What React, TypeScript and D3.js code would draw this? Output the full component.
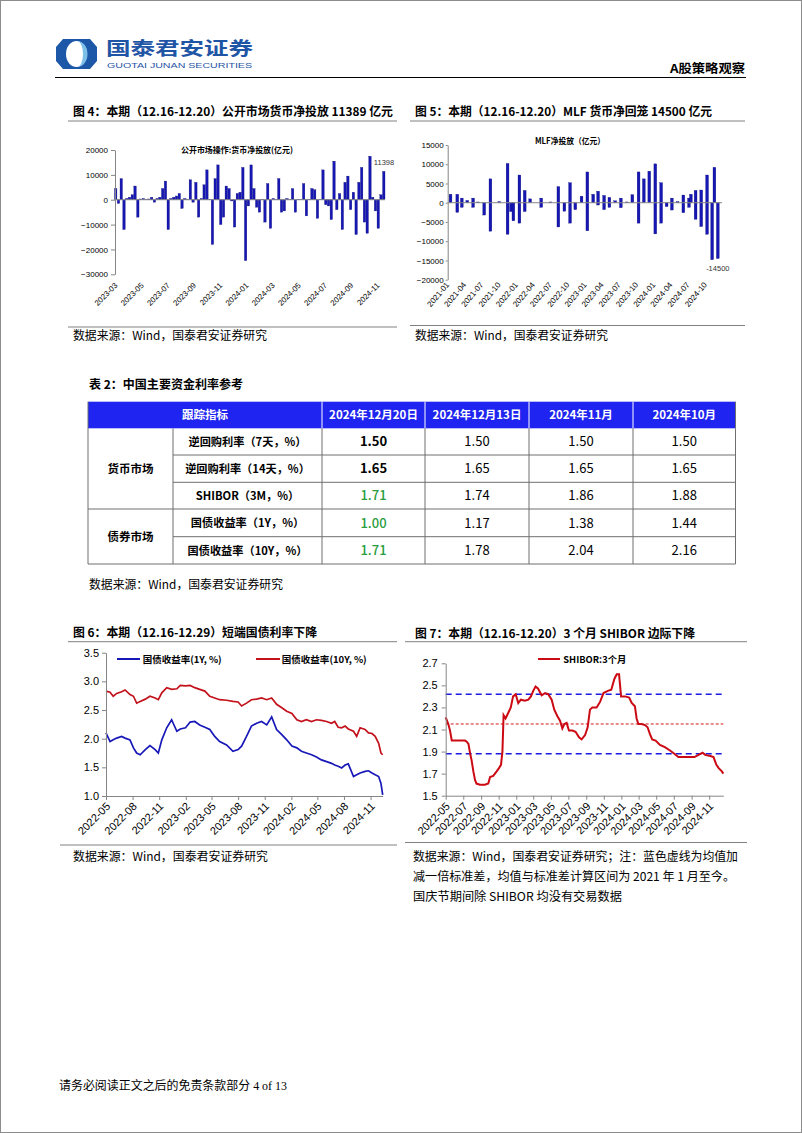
import { useEffect, useRef } from "react";
import * as d3 from "d3";

// ── 图4 公开市场操作:货币净投放(亿元)，周度 ─────────────────────────────────
const omoValues = [
  4500, -1500, 8500, -12000, 500, 1000, 2000, 5500, -7000, 300,
  500, 200, 300, 1000, -1000, 500, 1000, 4500, 7500, -12000,
  500, 1000, 1500, 2500, -3500, 500, 200, 8000, -1000, 7000,
  -7000, 500, 6000, 12000, 200, -18000, 8500, 14000, -10000, -7000,
  5500, 4500, -500, -11000, 2500, 3000, 13000, -24500, -2500, 14000,
  4500, -3000, -5000, 200, -9000, 6500, -11500, 500, 200, 8500,
  -5000, -4500, 500, 200, 4500, -5000, 200, 200, 6500, -6500,
  200, 4500, 4000, -7500, 200, 12000, -2000, -2500, -8000, 15500,
  -4000, 2500, -12000, 7000, 9500, -4000, 3000, -14000, 7000, 13000,
  -9000, -13500, 17500, 1000, -4500, -11500, 2000, 11398,
];
const omoTicks = [
  "2023-03", "2023-05", "2023-07", "2023-09", "2023-11", "2024-01",
  "2024-03", "2024-05", "2024-07", "2024-09", "2024-11",
];
const omoYTicks = [-30000, -20000, -10000, 0, 10000, 20000];

// ── 图5 MLF净投放(亿元) ─────────────────────────────────────────────────────
const mlfDates = [
  "2021-01-16", "2021-02-21", "2021-02-21", "2021-03-17", "2021-03-17", "2021-04-15",
  "2021-05-16", "2021-05-16", "2021-06-12", "2021-07-14", "2021-08-16", "2021-08-16",
  "2021-10-02", "2021-11-15", "2021-11-15", "2021-12-03", "2021-12-16", "2022-01-17",
  "2022-01-17", "2022-02-14", "2022-02-14", "2022-03-15", "2022-05-13", "2022-05-13",
  "2022-07-01", "2022-08-12", "2022-08-12", "2022-09-13", "2022-10-13", "2022-10-13",
  "2022-11-10", "2022-12-13", "2023-01-13", "2023-01-13", "2023-02-13", "2023-03-11",
  "2023-03-11", "2023-04-12", "2023-04-12", "2023-05-10", "2023-05-10", "2023-06-10",
  "2023-07-10", "2023-07-10", "2023-08-12", "2023-09-09", "2023-10-12", "2023-10-12",
  "2023-11-09", "2023-12-08", "2024-01-09", "2024-01-09", "2024-02-09", "2024-02-09",
  "2024-03-09", "2024-04-06", "2024-04-06", "2024-05-06", "2024-06-06", "2024-06-06",
  "2024-07-06", "2024-07-06", "2024-07-16", "2024-08-10", "2024-08-10", "2024-09-09",
  "2024-09-09", "2024-10-10", "2024-10-10", "2024-11-06", "2024-11-18", "2024-12-06",
];
const mlfValues = [
  2200, 2200, -2500, 1200, -1200, 600,
  1200, -1200, 200, -3200, 6200, -7400,
  300, 10200, -8200, -2300, -4700, 7200,
  -5300, 3200, -2300, 1000, 1200, -1200,
  200, 4200, -6300, -2200, 5200, -5300,
  -1800, 1700, 8000, -7300, 2200, 3000,
  -600, 1900, -1800, 1400, -1200, 500,
  1200, -1300, 200, 2100, 8000, -5300,
  6200, 8200, 10100, -8100, 5200, -5300,
  -1000, 1200, -1900, 300, 2000, -2600,
  1200, -1200, 2200, 3200, -4300, 3300,
  -6200, 7200, -8200, -14800, 9200, -14500,
];
const mlfTicks = [
  "2021-01", "2021-04", "2021-07", "2021-10", "2022-01", "2022-04", "2022-07", "2022-10",
  "2023-01", "2023-04", "2023-07", "2023-10", "2024-01", "2024-04", "2024-07", "2024-10",
];
const mlfYTicks = [-20000, -15000, -10000, -5000, 0, 5000, 10000, 15000];

// ── 表2 中国主要资金利率参考 ────────────────────────────────────────────────
const tableHeader = ["跟踪指标", "2024年12月20日", "2024年12月13日", "2024年11月", "2024年10月"];
const tableGroups = ["货币市场", "债券市场"];
const tableGroupRows = [3, 2];
const tableRowNames = [
  "逆回购利率（7天，%）",
  "逆回购利率（14天，%）",
  "SHIBOR（3M，%）",
  "国债收益率（1Y，%）",
  "国债收益率（10Y，%）",
];
const tableValues = [
  ["1.50", "1.50", "1.50", "1.50"],
  ["1.65", "1.65", "1.65", "1.65"],
  ["1.71", "1.74", "1.86", "1.88"],
  ["1.00", "1.17", "1.38", "1.44"],
  ["1.71", "1.78", "2.04", "2.16"],
];

// ── 图6 国债收益率 ─────────────────────────────────────────────────────────
const bondDates = [
  "2022-05-01", "2022-05-15", "2022-05-26", "2022-06-07", "2022-06-24", "2022-07-06", "2022-07-23", "2022-08-04",
  "2022-08-15", "2022-08-27", "2022-09-14", "2022-09-30", "2022-10-18", "2022-10-29", "2022-11-10", "2022-11-27",
  "2022-12-14", "2023-01-01", "2023-01-13", "2023-01-31", "2023-02-16", "2023-03-04", "2023-03-21", "2023-04-08",
  "2023-04-25", "2023-05-12", "2023-05-29", "2023-06-22", "2023-07-14", "2023-08-01", "2023-08-13", "2023-08-30",
  "2023-09-16", "2023-10-04", "2023-10-21", "2023-11-08", "2023-11-25", "2023-12-12", "2023-12-30", "2024-01-16",
  "2024-02-03", "2024-02-20", "2024-03-07", "2024-03-24", "2024-04-11", "2024-04-28", "2024-05-15", "2024-06-02",
  "2024-06-19", "2024-06-30", "2024-07-12", "2024-07-24", "2024-08-05", "2024-08-16", "2024-09-03", "2024-09-14",
  "2024-09-26", "2024-10-13", "2024-10-25", "2024-11-06", "2024-11-17", "2024-11-29", "2024-12-07", "2024-12-13",
];
const bond1Y = [
  2.10, 1.95, 1.98, 2.01, 2.04, 2.01, 1.98, 1.84, 1.75, 1.72,
  1.81, 1.88, 1.81, 1.75, 1.98, 2.19, 2.33, 2.13, 2.17, 2.19,
  2.29, 2.30, 2.24, 2.20, 2.16, 2.04, 1.95, 1.89, 1.78, 1.81,
  1.87, 2.04, 2.22, 2.27, 2.30, 2.24, 2.38, 2.16, 2.07, 1.98,
  1.87, 1.84, 1.78, 1.75, 1.72, 1.68, 1.63, 1.60, 1.57, 1.54,
  1.52, 1.49, 1.54, 1.56, 1.34, 1.37, 1.40, 1.43, 1.44, 1.40,
  1.37, 1.34, 1.22, 1.02,
];
const bond10Y = [
  2.83, 2.81, 2.74, 2.79, 2.82, 2.85, 2.77, 2.74, 2.62, 2.65,
  2.69, 2.74, 2.71, 2.68, 2.80, 2.89, 2.86, 2.87, 2.93, 2.92,
  2.93, 2.89, 2.86, 2.83, 2.74, 2.71, 2.68, 2.67, 2.65, 2.64,
  2.57, 2.62, 2.68, 2.69, 2.71, 2.68, 2.71, 2.60, 2.54, 2.48,
  2.44, 2.33, 2.30, 2.33, 2.30, 2.33, 2.32, 2.30, 2.27, 2.30,
  2.20, 2.19, 2.22, 2.17, 2.13, 2.04, 2.19, 2.16, 2.10, 2.09,
  2.04, 1.92, 1.75, 1.72,
];
const bondTicks = [
  "2022-05", "2022-08", "2022-11", "2023-02", "2023-05", "2023-08",
  "2023-11", "2024-02", "2024-05", "2024-08", "2024-11",
];
const bondYTicks = [1.0, 1.5, 2.0, 2.5, 3.0, 3.5];

// ── 图7 SHIBOR:3个月 ─────────────────────────────────────────────────────
const shiborDates = [
  "2022-05-01", "2022-05-10", "2022-05-16", "2022-05-22", "2022-06-02", "2022-06-20", "2022-07-07", "2022-07-13",
  "2022-07-19", "2022-07-25", "2022-07-30", "2022-08-05", "2022-08-11", "2022-08-16", "2022-08-28", "2022-09-14",
  "2022-09-26", "2022-10-02", "2022-10-13", "2022-10-25", "2022-11-02", "2022-11-09", "2022-11-14", "2022-11-18",
  "2022-11-25", "2022-12-04", "2022-12-13", "2022-12-21", "2022-12-30", "2023-01-08", "2023-01-17", "2023-01-31",
  "2023-02-12", "2023-02-21", "2023-03-01", "2023-03-09", "2023-03-18", "2023-03-30", "2023-04-11", "2023-04-22",
  "2023-05-04", "2023-05-13", "2023-05-24", "2023-06-02", "2023-06-10", "2023-06-17", "2023-06-25", "2023-07-03",
  "2023-07-15", "2023-07-26", "2023-08-07", "2023-08-16", "2023-08-28", "2023-09-06", "2023-09-14", "2023-09-22",
  "2023-10-07", "2023-10-19", "2023-10-31", "2023-11-15", "2023-11-27", "2023-12-08", "2023-12-16", "2023-12-24",
  "2023-12-31", "2024-01-14", "2024-01-28", "2024-02-06", "2024-02-17", "2024-02-23", "2024-02-29", "2024-03-11",
  "2024-03-23", "2024-04-01", "2024-04-09", "2024-04-17", "2024-04-29", "2024-05-14", "2024-05-31", "2024-06-18",
  "2024-07-03", "2024-07-17", "2024-07-31", "2024-08-19", "2024-08-30", "2024-09-11", "2024-09-25", "2024-10-09",
  "2024-10-18", "2024-11-05", "2024-11-16", "2024-11-26", "2024-12-04", "2024-12-15", "2024-12-20",
];
const shiborValues = [
  2.21, 2.15, 2.09, 2.00, 2.00, 2.00, 2.00, 1.99, 1.97, 1.88,
  1.82, 1.72, 1.64, 1.61, 1.60, 1.60, 1.61, 1.67, 1.68, 1.72,
  1.75, 1.78, 1.90, 2.23, 2.20, 2.25, 2.30, 2.40, 2.42, 2.34,
  2.37, 2.36, 2.37, 2.40, 2.45, 2.49, 2.47, 2.41, 2.43, 2.42,
  2.37, 2.28, 2.22, 2.18, 2.11, 2.15, 2.16, 2.09, 2.09, 2.08,
  2.03, 2.01, 2.05, 2.12, 2.28, 2.30, 2.30, 2.35, 2.43, 2.45,
  2.46, 2.56, 2.60, 2.60, 2.40, 2.40, 2.39, 2.34, 2.31, 2.20,
  2.15, 2.15, 2.14, 2.12, 2.06, 2.01, 2.00, 1.96, 1.94, 1.91,
  1.88, 1.85, 1.85, 1.85, 1.85, 1.85, 1.87, 1.89, 1.87, 1.86,
  1.85, 1.78, 1.75, 1.72, 1.70,
];
const shiborBandLevels = [2.42, 1.88];
const shiborMeanLevel = [2.15];
const shiborTicks = [
  "2022-05", "2022-07", "2022-09", "2022-11", "2023-01", "2023-03", "2023-05", "2023-07",
  "2023-09", "2023-11", "2024-01", "2024-03", "2024-05", "2024-07", "2024-09", "2024-11",
];
const shiborYTicks = [1.5, 1.7, 1.9, 2.1, 2.3, 2.5, 2.7];

const CJK = "'Noto Sans CJK SC', 'Noto Sans', sans-serif";
const SANS = "'Liberation Sans', Arial, sans-serif";
const SERIF = "'Liberation Serif', 'Noto Sans CJK SC', serif";

export default function App() {
  const svgRef = useRef<SVGSVGElement>(null);

  useEffect(() => {
    if (!svgRef.current) return;
    const svg = d3.select(svgRef.current);
    svg.selectAll("*").remove();

    const parseDay = d3.timeParse("%Y-%m-%d");
    const parseMonth = d3.timeParse("%Y-%m");

    type TOpt = { size: number; weight?: string | number; fill?: string; anchor?: string; family?: string; len?: number };
    const label = (
      parent: d3.Selection<any, unknown, null, undefined>,
      x: number,
      y: number,
      s: string,
      o: TOpt
    ) => {
      const t = parent
        .append("text")
        .attr("x", x)
        .attr("y", y)
        .attr("font-size", o.size)
        .attr("font-family", o.family ?? CJK)
        .attr("font-weight", o.weight ?? "normal")
        .attr("fill", o.fill ?? "#000")
        .attr("text-anchor", o.anchor ?? "start")
        .text(s);
      if (o.len) t.attr("textLength", o.len).attr("lengthAdjust", "spacingAndGlyphs");
      return t;
    };
    const hline = (x1: number, x2: number, y: number, stroke = "#000", w = 1) =>
      svg.append("line").attr("x1", x1).attr("x2", x2).attr("y1", y).attr("y2", y).attr("stroke", stroke).attr("stroke-width", w);

    const styleAxis = (ax: d3.Selection<SVGGElement, unknown, null, undefined>, size: number) => {
      ax.attr("font-family", SANS).attr("font-size", size);
      ax.select(".domain").attr("stroke", "#868686");
      ax.selectAll(".tick line").attr("stroke", "#868686");
      ax.selectAll(".tick text").attr("fill", "#000");
    };

    // page
    svg.append("rect").attr("x", 0.5).attr("y", 0.5).attr("width", 801).attr("height", 1132)
      .attr("fill", "#fff").attr("stroke", "#8c8c8c");

    // ── header ─────────────────────────────────────────────────────────────
    const logo = svg.append("g");
    logo.append("path")
      .attr("d", "M63,39 L90,39 L97,47 L97,61 L90,69 L63,69 L56,61 L56,47 Z")
      .attr("fill", "#1d57a8");
    logo.append("ellipse").attr("cx", 76.5).attr("cy", 54).attr("rx", 10.5).attr("ry", 13).attr("fill", "#fff");
    logo.append("path")
      .attr("d", "M77,41 A10.5,13 0 0 1 77,67 A6,13 0 0 0 77,41 Z")
      .attr("fill", "#7cc0ea");
    label(svg, 106, 55, "国泰君安证券", { size: 18, weight: "bold", fill: "#1f55a5", len: 147 });
    label(svg, 107, 67.5, "GUOTAI JUNAN SECURITIES", { size: 7, fill: "#1f55a5", family: SANS, len: 145 });
    label(svg, 670, 73, "A股策略观察", { size: 12, weight: "bold", len: 75 });
    hline(55, 746, 77.5, "#000", 1.2);

    // ── 图4 ────────────────────────────────────────────────────────────────
    label(svg, 73, 116, "图 4：本期（12.16-12.20）公开市场货币净投放 11389 亿元", { size: 12, weight: "bold", len: 320 });
    hline(68, 397, 121, "#808080", 1);

    const y4 = d3.scaleLinear().domain([-30000, 20000]).range([274.3, 150]);
    const x4 = d3.scaleBand<number>().domain(d3.range(omoValues.length)).range([114.5, 385]).paddingInner(0.12);
    const g4 = svg.append("g");
    g4.selectAll("rect")
      .data(omoValues)
      .join("rect")
      .attr("x", (_, i) => x4(i) as number)
      .attr("width", x4.bandwidth())
      .attr("y", (d) => y4(Math.max(0, d)))
      .attr("height", (d) => Math.abs(y4(d) - y4(0)))
      .attr("fill", "#1717b4")
      .attr("stroke", "#0b0b78")
      .attr("stroke-width", 0.3);
    g4.append("line").attr("x1", 115).attr("x2", 385).attr("y1", y4(0)).attr("y2", y4(0)).attr("stroke", "#868686");
    const ax4 = g4.append("g").attr("transform", "translate(115,0)")
      .call(d3.axisLeft(y4).tickValues(omoYTicks).tickSize(4).tickSizeOuter(0).tickFormat(d3.format("d")));
    styleAxis(ax4, 8);
    const px4 = d3.scalePoint<string>().domain(omoTicks).range([116, 378]);
    omoTicks.forEach((t) => {
      label(g4, 0, 0, t, { size: 7.8, family: SANS, anchor: "end" })
        .attr("transform", `translate(${(px4(t) as number) + 2},${286}) rotate(-45)`);
    });
    label(g4, 237, 153, "公开市场操作:货币净投放(亿元)", { size: 8.2, weight: "bold", anchor: "middle", len: 112 });
    label(g4, 384, 164.5, String(omoValues[omoValues.length - 1]), { size: 7.5, family: SANS, anchor: "middle", fill: "#333" });

    hline(68, 397, 327, "#808080", 1);
    label(svg, 73, 340, "数据来源：Wind，国泰君安证券研究", { size: 12, len: 194 });

    // ── 图5 ────────────────────────────────────────────────────────────────
    label(svg, 415, 116, "图 5：本期（12.16-12.20）MLF 货币净回笼 14500 亿元", { size: 12, weight: "bold", len: 297 });
    hline(410, 745, 121, "#808080", 1);

    const y5 = d3.scaleLinear().domain([-20000, 15000]).range([279.7, 145]);
    const x5 = d3.scaleTime().domain([new Date(2021, 0, 1), new Date(2025, 0, 1)]).range([447.7, 722.7]);
    const g5 = svg.append("g");
    g5.selectAll("rect")
      .data(mlfValues)
      .join("rect")
      .attr("x", (_, i) => x5(parseDay(mlfDates[i]) as Date) - 1.4)
      .attr("width", 2.8)
      .attr("y", (d) => y5(Math.max(0, d)))
      .attr("height", (d) => Math.abs(y5(d) - y5(0)))
      .attr("fill", "#1717b4")
      .attr("stroke", "#0b0b78")
      .attr("stroke-width", 0.3);
    g5.append("line").attr("x1", 447.7).attr("x2", 722).attr("y1", y5(0)).attr("y2", y5(0)).attr("stroke", "#868686");
    const ax5 = g5.append("g").attr("transform", "translate(447.7,0)")
      .call(d3.axisLeft(y5).tickValues(mlfYTicks).tickSize(2).tickPadding(2).tickSizeOuter(0).tickFormat(d3.format("d")));
    styleAxis(ax5, 8);
    mlfTicks.forEach((t) => {
      label(g5, 0, 0, t, { size: 8, family: SANS, anchor: "end" })
        .attr("transform", `translate(${x5(parseMonth(t) as Date) + 2},${285}) rotate(-50)`);
    });
    label(g5, 570, 144, "MLF净投放（亿元）", { size: 8.2, weight: "bold", anchor: "middle", len: 70 });
    label(g5, x5(parseDay(mlfDates[mlfDates.length - 1]) as Date), 271, String(mlfValues[mlfValues.length - 1]),
      { size: 7.5, family: SANS, anchor: "middle", fill: "#333" });

    hline(410, 745, 325.5, "#808080", 1);
    label(svg, 415, 340, "数据来源：Wind，国泰君安证券研究", { size: 12, len: 193 });

    // ── 表2 ────────────────────────────────────────────────────────────────
    label(svg, 89, 388.5, "表 2：中国主要资金利率参考", { size: 12, weight: "bold", len: 154 });
    const colX = [88, 173, 322, 425, 529, 633, 735.5];
    const rowY = [401.7, 428.3, 455, 482.3, 509, 536.7, 564];
    const tg = svg.append("g");
    tg.append("rect").attr("x", colX[0]).attr("y", rowY[0]).attr("width", colX[6] - colX[0]).attr("height", rowY[1] - rowY[0])
      .attr("fill", "#1f24f0");
    [2, 3, 4, 5].forEach((c) => {
      tg.append("line").attr("x1", colX[c]).attr("x2", colX[c]).attr("y1", rowY[0]).attr("y2", rowY[1]).attr("stroke", "#fff").attr("stroke-width", 1);
    });
    const hy = (rowY[0] + rowY[1]) / 2 + 4.2;
    label(tg, (colX[0] + colX[2]) / 2, hy, tableHeader[0], { size: 11.5, weight: "bold", fill: "#fff", anchor: "middle" });
    tableHeader.slice(1).forEach((h, i) => {
      label(tg, (colX[i + 2] + colX[i + 3]) / 2, hy, h, { size: 11.5, weight: "bold", fill: "#fff", anchor: "middle" });
    });
    const grid = "#6f6f6f";
    for (let r = 2; r <= 6; r++) {
      const full = r === 4 || r === 6;
      tg.append("line").attr("x1", full ? colX[0] : colX[1]).attr("x2", colX[6]).attr("y1", rowY[r]).attr("y2", rowY[r])
        .attr("stroke", grid);
    }
    colX.forEach((cx) => {
      tg.append("line").attr("x1", cx).attr("x2", cx).attr("y1", rowY[1]).attr("y2", rowY[6]).attr("stroke", grid);
    });
    tg.append("line").attr("x1", colX[0]).attr("x2", colX[0]).attr("y1", rowY[0]).attr("y2", rowY[1]).attr("stroke", grid);
    tg.append("line").attr("x1", colX[6]).attr("x2", colX[6]).attr("y1", rowY[0]).attr("y2", rowY[1]).attr("stroke", grid);
    let start = 0;
    tableGroups.forEach((gname, gi) => {
      const n = tableGroupRows[gi];
      const cy = (rowY[1 + start] + rowY[1 + start + n]) / 2 + 4;
      label(tg, (colX[0] + colX[1]) / 2, cy, gname, { size: 11.5, weight: "bold", anchor: "middle" });
      start += n;
    });
    tableRowNames.forEach((name, r) => {
      const cy = (rowY[r + 1] + rowY[r + 2]) / 2 + 4.2;
      label(tg, (colX[1] + colX[2]) / 2, cy, name, { size: 11.2, weight: "bold", anchor: "middle" });
      tableValues[r].forEach((v, c) => {
        const first = c === 0;
        const green = first && r >= 2;
        label(tg, (colX[c + 2] + colX[c + 3]) / 2, cy + 0.5, v, {
          size: 13,
          weight: first && !green ? "bold" : first ? 500 : "normal",
          fill: green ? "#2a9d40" : "#000",
          anchor: "middle",
        });
      });
    });
    label(svg, 89, 588.5, "数据来源：Wind，国泰君安证券研究", { size: 12, len: 194 });

    // ── 图6 ────────────────────────────────────────────────────────────────
    label(svg, 73, 637, "图 6：本期（12.16-12.29）短端国债利率下降", { size: 12, weight: "bold", len: 244 });
    hline(68, 397, 641.7, "#808080", 1);
    const y6 = d3.scaleLinear().domain([1.0, 3.5]).range([796, 652.7]);
    const x6 = d3.scaleTime().domain([parseDay("2022-05-01") as Date, parseDay("2024-12-13") as Date]).range([106, 382.7]);
    const g6 = svg.append("g");
    const line6 = d3.line<number>().x((_, i) => x6(parseDay(bondDates[i]) as Date)).y((d) => y6(d));
    g6.append("path").datum(bond10Y).attr("d", line6).attr("fill", "none").attr("stroke", "#c3121c").attr("stroke-width", 1.7);
    g6.append("path").datum(bond1Y).attr("d", line6).attr("fill", "none").attr("stroke", "#1818b8").attr("stroke-width", 1.7);
    const ax6y = g6.append("g").attr("transform", "translate(106,0)")
      .call(d3.axisLeft(y6).tickValues(bondYTicks).tickSize(4).tickPadding(3).tickSizeOuter(0).tickFormat(d3.format(".1f")));
    styleAxis(ax6y, 11);
    const ax6x = g6.append("g").attr("transform", "translate(0,796)")
      .call(d3.axisBottom(x6).tickValues(bondTicks.map((t) => parseMonth(t) as Date)).tickSize(4).tickSizeOuter(0).tickFormat(() => ""));
    styleAxis(ax6x, 11);
    bondTicks.forEach((t) => {
      label(g6, 0, 0, t, { size: 11, family: SANS, anchor: "end" })
        .attr("transform", `translate(${x6(parseMonth(t) as Date) + 5},${807}) rotate(-45)`);
    });
    g6.append("line").attr("x1", 117).attr("x2", 140).attr("y1", 659).attr("y2", 659).attr("stroke", "#1818b8").attr("stroke-width", 2);
    label(g6, 142.7, 662.5, "国债收益率(1Y, %)", { size: 9.5, weight: "bold", len: 79 });
    g6.append("line").attr("x1", 256).attr("x2", 280).attr("y1", 659).attr("y2", 659).attr("stroke", "#c3121c").attr("stroke-width", 2);
    label(g6, 281.7, 662.5, "国债收益率(10Y, %)", { size: 9.5, weight: "bold", len: 85 });
    hline(60, 397, 845, "#808080", 1);
    label(svg, 73, 861, "数据来源：Wind，国泰君安证券研究", { size: 12, len: 195 });

    // ── 图7 ────────────────────────────────────────────────────────────────
    label(svg, 415, 637.5, "图 7：本期（12.16-12.20）3 个月 SHIBOR 边际下降", { size: 12, weight: "bold", len: 280 });
    hline(405, 747, 641.7, "#808080", 1);
    const y7 = d3.scaleLinear().domain([1.5, 2.7]).range([795.7, 663.3]);
    const x7 = d3.scaleTime().domain([parseDay("2022-05-01") as Date, parseDay("2024-12-20") as Date]).range([445.7, 723.3]);
    const g7 = svg.append("g");
    shiborBandLevels.forEach((v) => {
      g7.append("line").attr("x1", 445.7).attr("x2", 723.3).attr("y1", y7(v)).attr("y2", y7(v))
        .attr("stroke", "#1c1ce0").attr("stroke-width", 1.5).attr("stroke-dasharray", "6 4");
    });
    shiborMeanLevel.forEach((v) => {
      g7.append("line").attr("x1", 445.7).attr("x2", 723.3).attr("y1", y7(v)).attr("y2", y7(v))
        .attr("stroke", "#d11a1a").attr("stroke-width", 1).attr("stroke-dasharray", "3 2");
    });
    const line7 = d3.line<number>().x((_, i) => x7(parseDay(shiborDates[i]) as Date)).y((d) => y7(d));
    g7.append("path").datum(shiborValues).attr("d", line7).attr("fill", "none").attr("stroke", "#cc0a14").attr("stroke-width", 2);
    const ax7y = g7.append("g").attr("transform", "translate(445.7,0)")
      .call(d3.axisLeft(y7).tickValues(shiborYTicks).tickSize(4).tickPadding(4).tickSizeOuter(0).tickFormat(d3.format(".1f")));
    styleAxis(ax7y, 11);
    const ax7x = g7.append("g").attr("transform", "translate(0,795.7)")
      .call(d3.axisBottom(x7).tickValues(shiborTicks.map((t) => parseMonth(t) as Date)).tickSize(4).tickSizeOuter(0).tickFormat(() => ""));
    styleAxis(ax7x, 11);
    shiborTicks.forEach((t) => {
      label(g7, 0, 0, t, { size: 11, family: SANS, anchor: "end" })
        .attr("transform", `translate(${x7(parseMonth(t) as Date) + 5},${807}) rotate(-45)`);
    });
    g7.append("line").attr("x1", 538).attr("x2", 560).attr("y1", 659).attr("y2", 659).attr("stroke", "#cc0a14").attr("stroke-width", 2);
    label(g7, 563.3, 662.5, "SHIBOR:3个月", { size: 9.5, weight: "bold", len: 63 });
    hline(405, 747, 842.5, "#808080", 1);
    label(svg, 413, 861, "数据来源：Wind，国泰君安证券研究；注：蓝色虚线为均值加", { size: 12, len: 325 });
    label(svg, 413, 881, "减一倍标准差，均值与标准差计算区间为 2021 年 1 月至今。", { size: 12, len: 322 });
    label(svg, 413, 901, "国庆节期间除 SHIBOR 均没有交易数据", { size: 12, len: 209 });

    // ── footer ─────────────────────────────────────────────────────────────
    label(svg, 59, 1090, "请务必阅读正文之后的免责条款部分 4 of 13", { size: 12, family: SERIF, len: 228 });
  }, []);

  return (
    <div style={{ position: "absolute", left: 0, top: 0, background: "#fff" }}>
      <svg ref={svgRef} width={802} height={1133} style={{ display: "block" }} />
    </div>
  );
}
